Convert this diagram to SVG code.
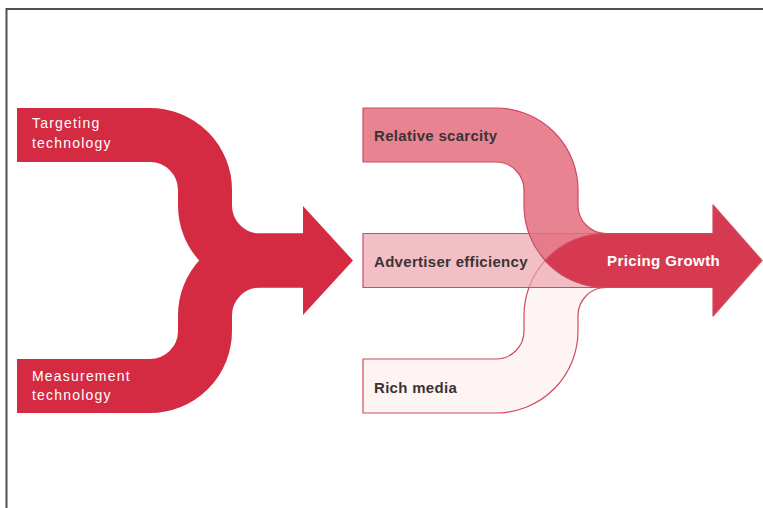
<svg xmlns="http://www.w3.org/2000/svg" width="763" height="508" viewBox="0 0 763 508">
<style>
.lband{fill:none;stroke:#d42a42;stroke-width:54}
.lfill{fill:#d42a42}
.wt{font-family:"Liberation Sans",Arial,sans-serif;font-size:14px;fill:#ffffff;letter-spacing:1.2px}
.dt{font-family:"Liberation Sans",Arial,sans-serif;font-size:15px;font-weight:bold;fill:#3b3335;letter-spacing:0.3px}
.pt{font-family:"Liberation Sans",Arial,sans-serif;font-size:15px;font-weight:bold;fill:#ffffff;letter-spacing:0.4px}
.edge{stroke:#cf4a5e;stroke-width:1.2;stroke-linejoin:round}
</style>
<rect x="0" y="0" width="763" height="508" fill="#ffffff"/>
<path d="M6.5,509 V9 H764" fill="none" stroke="#505050" stroke-width="2"/>

<g id="connectors">
  <g id="left-merge">
    <path class="lband" d="M17,135 H150 A55,55 0 0 1 205,190 V205.5 A55,55 0 0 0 260,260.5 H306"/>
    <path class="lband" d="M17,386 H150 A55,55 0 0 0 205,331 V315.5 A55,55 0 0 1 260,260.5 H306"/>
    <polygon class="lfill" points="303,206 353,260.5 303,315"/>
  </g>
</g>

<g id="targeting">
  <text class="wt" x="32" y="128">Targeting</text>
  <text class="wt" x="32" y="148">technology</text>
</g>
<g id="measurement">
  <text class="wt" x="32" y="381">Measurement</text>
  <text class="wt" x="32" y="400">technology</text>
</g>

<g id="rich-media">
  <path class="edge" fill="#fdf4f3" d="M363,413 H496 A82,82 0 0 0 578,331 V315.5 A28,28 0 0 1 606,287.5 H720 V233.5 H606 A82,82 0 0 0 524,315.5 V331 A28,28 0 0 1 496,359 H363 Z"/>
  <text class="dt" x="374" y="393">Rich media</text>
</g>
<g id="advertiser-efficiency">
  <rect class="edge" x="363" y="233.5" width="357" height="54" fill="#eca4ae" fill-opacity="0.7"/>
  <text class="dt" x="374" y="267">Advertiser efficiency</text>
</g>
<g id="relative-scarcity">
  <path class="edge" fill="#e46f7f" fill-opacity="0.85" d="M363,108 H496 A82,82 0 0 1 578,190 V205.5 A28,28 0 0 0 606,233.5 H720 V287.5 H606 A82,82 0 0 1 524,205.5 V190 A28,28 0 0 0 496,162 H363 Z"/>
  <text class="dt" x="374" y="141">Relative scarcity</text>
</g>
<g id="pricing-growth">
  <path class="edge" fill="#d63a50" d="M545.2,260.5 A82,82 0 0 0 606,287.5 H713 V316 L762,260.5 L713,205 V233.5 H606 A82,82 0 0 0 545.2,260.5 Z"/>
  <text class="pt" x="607" y="266">Pricing Growth</text>
</g>
</svg>
